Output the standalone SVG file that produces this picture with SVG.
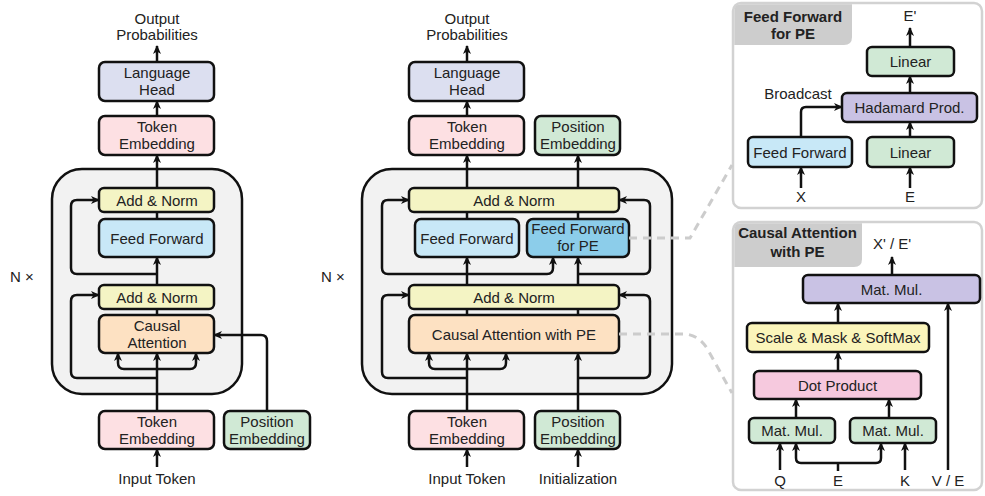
<svg xmlns="http://www.w3.org/2000/svg" width="985" height="496" viewBox="0 0 985 496">
<defs>
<marker id="ah" markerUnits="userSpaceOnUse" markerWidth="10" markerHeight="9" refX="8" refY="4.5" orient="auto">
<path d="M0,0.5 L9,4.5 L0,8.5 L2.5,4.5 z" fill="#111"/>
</marker>
<style>
text{font-family:"Liberation Sans",Arial,sans-serif;font-size:15px;fill:#222;text-anchor:middle}
.b{font-weight:bold}
.n{stroke:#111;stroke-width:2.5}
.c{fill:none;stroke:#111;stroke-width:2.5}
.a{marker-end:url(#ah)}
.d{fill:none;stroke:#cccccc;stroke-width:3;stroke-dasharray:8 6}
.lh{fill:#dcdff0}.te{fill:#fde0e3}.pe{fill:#d0e9d5}.an{fill:#f4f4c4}.ff{fill:#c8e8f7}.ffp{fill:#8ccdea}.ca{fill:#fde1c2}
.pu{fill:#c9c2e4}.ye{fill:#fbf5ba}.pk{fill:#f6c9de}
.box{fill:#f2f2f2;stroke:#111;stroke-width:2.5}
.panel{fill:#fff;stroke:#d2d2d2;stroke-width:2.5}
.tab{fill:#cdcdcd}
</style>
</defs>

<!-- left diagram -->
<g id="left-block"><rect class="box" x="52" y="169" width="190" height="225" rx="30"/></g>
<text x="22" y="282">N ×</text>
<text x="157" y="24">Output</text>
<text x="157" y="40">Probabilities</text>
<g id="l-lang-head"><rect class="n lh" x="99" y="62" width="115" height="39" rx="6"/><text x="157" y="77.5">Language</text><text x="157" y="94.5">Head</text></g>
<g id="l-tok-emb-out"><rect class="n te" x="99" y="116" width="115" height="39" rx="6"/><text x="157" y="131.5">Token</text><text x="157" y="148.5">Embedding</text></g>
<g id="l-addnorm1"><rect class="n an" x="99" y="188" width="115" height="24" rx="5"/><text x="157" y="205.5">Add &amp; Norm</text></g>
<g id="l-ff"><rect class="n ff" x="99" y="219" width="115" height="38" rx="6"/><text x="157" y="243.5">Feed Forward</text></g>
<g id="l-addnorm2"><rect class="n an" x="99" y="285" width="115" height="24" rx="5"/><text x="157" y="302.5">Add &amp; Norm</text></g>
<g id="l-attn"><rect class="n ca" x="99" y="315" width="115" height="38" rx="6"/><text x="157" y="330.5">Causal</text><text x="157" y="347.5">Attention</text></g>
<g id="l-tok-emb-in"><rect class="n te" x="99" y="411" width="115" height="38" rx="6"/><text x="157" y="426.5">Token</text><text x="157" y="443.5">Embedding</text></g>
<g id="l-pos-emb"><rect class="n pe" x="224" y="411" width="86" height="38" rx="6"/><text x="267" y="426.5">Position</text><text x="267" y="443.5">Embedding</text></g>
<text x="157" y="484">Input Token</text>

<!-- middle diagram -->
<g id="m-block"><rect class="box" x="362" y="169" width="310" height="225" rx="30"/></g>
<text x="333" y="282">N ×</text>
<text x="467" y="24">Output</text>
<text x="467" y="40">Probabilities</text>
<g id="m-lang-head"><rect class="n lh" x="409" y="62" width="115" height="39" rx="6"/><text x="467" y="77.5">Language</text><text x="467" y="94.5">Head</text></g>
<g id="m-tok-emb-out"><rect class="n te" x="409" y="116" width="115" height="39" rx="6"/><text x="467" y="131.5">Token</text><text x="467" y="148.5">Embedding</text></g>
<g id="m-pos-emb-out"><rect class="n pe" x="535" y="116" width="85" height="39" rx="6"/><text x="578" y="131.5">Position</text><text x="578" y="148.5">Embedding</text></g>
<g id="m-addnorm1"><rect class="n an" x="409" y="188" width="210" height="24" rx="5"/><text x="514" y="205.5">Add &amp; Norm</text></g>
<g id="m-ff"><rect class="n ff" x="415" y="219" width="104" height="38" rx="6"/><text x="467" y="243.5">Feed Forward</text></g>
<g id="m-ffpe"><rect class="n ffp" x="527" y="219" width="102" height="38" rx="6"/><text x="578" y="234">Feed Forward</text><text x="578" y="251">for PE</text></g>
<g id="m-addnorm2"><rect class="n an" x="409" y="285" width="210" height="24" rx="5"/><text x="514" y="302.5">Add &amp; Norm</text></g>
<g id="m-attn"><rect class="n ca" x="409" y="315" width="210" height="38" rx="6"/><text x="514" y="339.5">Causal Attention with PE</text></g>
<g id="m-tok-emb-in"><rect class="n te" x="409" y="411" width="115" height="38" rx="6"/><text x="467" y="426.5">Token</text><text x="467" y="443.5">Embedding</text></g>
<g id="m-pos-emb-in"><rect class="n pe" x="535" y="411" width="85" height="38" rx="6"/><text x="578" y="426.5">Position</text><text x="578" y="443.5">Embedding</text></g>
<text x="467" y="484">Input Token</text>
<text x="578" y="484">Initialization</text>

<!-- right top panel -->
<g id="panel-ffpe">
<rect class="panel" x="733" y="3" width="249" height="205" rx="8"/>
<path class="tab" d="M734.3,45 V11 Q734.3,4.3 741,4.3 H852 V37 Q852,45 844,45 Z"/>
<text class="b" x="793" y="22">Feed Forward</text>
<text class="b" x="793" y="39">for PE</text>
<text x="910" y="21">E'</text>
<text x="798" y="99">Broadcast</text>
<text x="801" y="202">X</text>
<text x="910" y="202">E</text>
</g>
<g id="p1-linear-top"><rect class="n pe" x="867" y="47" width="87" height="29" rx="5"/><text x="910.5" y="67">Linear</text></g>
<g id="p1-hadamard"><rect class="n pu" x="842" y="93" width="135" height="29" rx="5"/><text x="909.5" y="113">Hadamard Prod.</text></g>
<g id="p1-ff"><rect class="n ff" x="748" y="137" width="104" height="30" rx="5"/><text x="800" y="157.5">Feed Forward</text></g>
<g id="p1-linear-bot"><rect class="n pe" x="867" y="137" width="87" height="30" rx="5"/><text x="910.5" y="157.5">Linear</text></g>

<!-- right bottom panel -->
<g id="panel-attn">
<rect class="panel" x="733" y="222" width="249" height="268" rx="8"/>
<path class="tab" d="M734.3,267 V230 Q734.3,223.3 741,223.3 H862 V259 Q862,267 854,267 Z"/>
<text class="b" x="797.5" y="238">Causal Attention</text>
<text class="b" x="797.5" y="257">with PE</text>
<text x="892" y="249">X' / E'</text>
<text x="780" y="486">Q</text>
<text x="838" y="486">E</text>
<text x="905" y="486">K</text>
<text x="948" y="486">V / E</text>
</g>
<g id="p2-matmul"><rect class="n pu" x="803" y="275" width="177" height="28" rx="5"/><text x="891.5" y="294.5">Mat. Mul.</text></g>
<g id="p2-scale"><rect class="n ye" x="747" y="323" width="182" height="29" rx="5"/><text x="838" y="343">Scale &amp; Mask &amp; SoftMax</text></g>
<g id="p2-dot"><rect class="n pk" x="754" y="371" width="167" height="28" rx="5"/><text x="837.5" y="390.5">Dot Product</text></g>
<g id="p2-mm-q"><rect class="n pe" x="749" y="418" width="86" height="25" rx="5"/><text x="792" y="436">Mat. Mul.</text></g>
<g id="p2-mm-k"><rect class="n pe" x="850" y="418" width="86" height="25" rx="5"/><text x="893" y="436">Mat. Mul.</text></g>

<!-- connectors -->
<g id="connectors">
<path class="c a" d="M157,62 V46"/>
<path class="c a" d="M157,116 V101"/>
<path class="c a" d="M157,188 V155"/>
<path class="c" d="M157,219 V212"/>
<path class="c a" d="M157,285 V257"/>
<path class="c" d="M157,315 V309"/>
<path class="c a" d="M157,411 V353"/>
<path class="c a" d="M157,369 H124 Q118,369 118,363 V353"/>
<path class="c a" d="M157,369 H190 Q196,369 196,363 V353"/>
<path class="c a" d="M157,467 V449"/>
<path class="c a" d="M157,274 H77 Q71,274 71,268 V206 Q71,200 77,200 H99"/>
<path class="c a" d="M157,378 H77 Q71,378 71,372 V301 Q71,295 77,295 H99"/>
<path class="c a" d="M267,411 V341 Q267,335 261,335 H214"/>

<path class="c a" d="M467,62 V46"/>
<path class="c a" d="M467,116 V101"/>
<path class="c a" d="M467,188 V155"/>
<path class="c a" d="M578,188 V155"/>
<path class="c" d="M467,219 V212"/>
<path class="c" d="M578,219 V212"/>
<path class="c a" d="M467,285 V257"/>
<path class="c a" d="M578,285 V257"/>
<path class="c" d="M467,315 V309"/>
<path class="c" d="M578,315 V309"/>
<path class="c a" d="M467,411 V353"/>
<path class="c a" d="M578,411 V353"/>
<path class="c a" d="M467,369 H435 Q429,369 429,363 V353"/>
<path class="c a" d="M467,369 H500 Q506,369 506,363 V353"/>
<path class="c a" d="M467,467 V449"/>
<path class="c a" d="M578,467 V449"/>
<path class="c a" d="M467,274 H388 Q382,274 382,268 V206 Q382,200 388,200 H409"/>
<path class="c a" d="M467,274 H547 Q553,274 553,268 V257"/>
<path class="c a" d="M578,274 H644 Q650,274 650,268 V206 Q650,200 644,200 H619"/>
<path class="c a" d="M467,378 H388 Q382,378 382,372 V301 Q382,295 388,295 H409"/>
<path class="c a" d="M578,378 H644 Q650,378 650,372 V301 Q650,295 644,295 H619"/>

<path class="d" d="M629,238 H690 L732,165"/>
<path class="d" d="M619,334 H686 Q700,336 708,350 L732,393"/>

<path class="c a" d="M910,47 V28"/>
<path class="c a" d="M910,93 V76"/>
<path class="c a" d="M910,137 V122"/>
<path class="c a" d="M910,188 V167"/>
<path class="c a" d="M801,188 V167"/>
<path class="c a" d="M801,137 V112 Q801,107 806,107 H842"/>

<path class="c a" d="M892,275 V257"/>
<path class="c a" d="M838,323 V303"/>
<path class="c a" d="M838,371 V352"/>
<path class="c a" d="M796,418 V399"/>
<path class="c a" d="M889,418 V399"/>
<path class="c a" d="M780,470 V443"/>
<path class="c" d="M838,471 V463"/>
<path class="c a" d="M838,463 H801 Q796,463 796,458 V443"/>
<path class="c a" d="M838,463 H876 Q881,463 881,458 V443"/>
<path class="c a" d="M905,470 V443"/>
<path class="c a" d="M948,470 V303"/>
</g>
</svg>
